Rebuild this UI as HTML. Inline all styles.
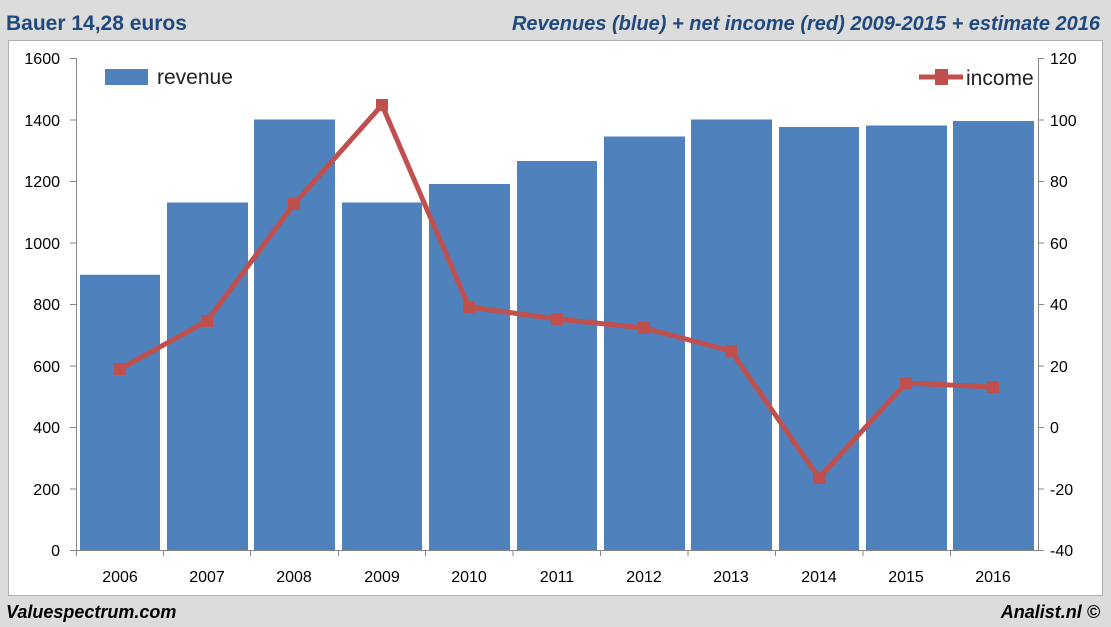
<!DOCTYPE html>
<html><head><meta charset="utf-8"><style>
body{margin:0;background:#dcdcdc;}
svg{display:block;font-family:"Liberation Sans",Calibri,sans-serif;}
</style></head><body>
<svg width="1111" height="627" viewBox="0 0 1111 627">
<rect x="0" y="0" width="1111" height="627" fill="#dcdcdc"/>
<rect x="8.5" y="40.5" width="1094" height="555" fill="#fff" stroke="#b0b0b0"/>
<text x="6" y="30" font-size="21" font-weight="bold" fill="#1f497d">Bauer  14,28 euros</text>
<text x="1100" y="30" font-size="20" font-weight="bold" font-style="italic" fill="#1f497d" text-anchor="end">Revenues (blue) + net income (red) 2009-2015 + estimate 2016</text>
<text x="6" y="618" font-size="18" font-weight="bold" font-style="italic" fill="#000">Valuespectrum.com</text>
<text x="1100" y="618" font-size="18" font-weight="bold" font-style="italic" fill="#000" text-anchor="end">Analist.nl ©</text>
<g fill="#4f81bd">
<rect x="80" y="274.8" width="80" height="275.2"/>
<rect x="167" y="202.5" width="81" height="347.5"/>
<rect x="254" y="119.5" width="81" height="430.5"/>
<rect x="342" y="202.5" width="80" height="347.5"/>
<rect x="429" y="184" width="81" height="366"/>
<rect x="517" y="161" width="80" height="389"/>
<rect x="604" y="136.5" width="81" height="413.5"/>
<rect x="691" y="119.5" width="81" height="430.5"/>
<rect x="779" y="127" width="80" height="423"/>
<rect x="866" y="125.5" width="81" height="424.5"/>
<rect x="953" y="121" width="81" height="429"/>
</g>
<g stroke="#868686" stroke-width="1">
<line x1="76.5" y1="58" x2="76.5" y2="556"/>
<line x1="1038.5" y1="58" x2="1038.5" y2="550"/>
<line x1="70" y1="550.5" x2="1038" y2="550.5"/>
<line x1="70" y1="58.5" x2="76" y2="58.5"/><line x1="70" y1="120" x2="76" y2="120"/><line x1="70" y1="181.5" x2="76" y2="181.5"/><line x1="70" y1="243" x2="76" y2="243"/><line x1="70" y1="304.5" x2="76" y2="304.5"/><line x1="70" y1="366" x2="76" y2="366"/><line x1="70" y1="427.5" x2="76" y2="427.5"/><line x1="70" y1="489" x2="76" y2="489"/>
<line x1="1038" y1="58.5" x2="1044" y2="58.5"/><line x1="1038" y1="120" x2="1044" y2="120"/><line x1="1038" y1="181.5" x2="1044" y2="181.5"/><line x1="1038" y1="243" x2="1044" y2="243"/><line x1="1038" y1="304.5" x2="1044" y2="304.5"/><line x1="1038" y1="366" x2="1044" y2="366"/><line x1="1038" y1="427.5" x2="1044" y2="427.5"/><line x1="1038" y1="489" x2="1044" y2="489"/><line x1="1038" y1="550.5" x2="1044" y2="550.5"/>
<line x1="163.5" y1="550" x2="163.5" y2="556"/><line x1="250.5" y1="550" x2="250.5" y2="556"/><line x1="338.5" y1="550" x2="338.5" y2="556"/><line x1="425.5" y1="550" x2="425.5" y2="556"/><line x1="513" y1="550" x2="513" y2="556"/><line x1="600.5" y1="550" x2="600.5" y2="556"/><line x1="688" y1="550" x2="688" y2="556"/><line x1="775.5" y1="550" x2="775.5" y2="556"/><line x1="863" y1="550" x2="863" y2="556"/><line x1="950.5" y1="550" x2="950.5" y2="556"/>
</g>
<g font-size="16" fill="#000" text-anchor="end">
<text x="60" y="64">1600</text><text x="60" y="126">1400</text><text x="60" y="187">1200</text><text x="60" y="249">1000</text><text x="60" y="310">800</text><text x="60" y="372">600</text><text x="60" y="433">400</text><text x="60" y="495">200</text><text x="60" y="556">0</text>
</g>
<g font-size="16" fill="#000" text-anchor="start">
<text x="1050" y="64">120</text><text x="1050" y="126">100</text><text x="1050" y="187">80</text><text x="1050" y="249">60</text><text x="1050" y="310">40</text><text x="1050" y="372">20</text><text x="1050" y="433">0</text><text x="1050" y="495">-20</text><text x="1050" y="556">-40</text>
</g>
<g font-size="16" fill="#000" text-anchor="middle">
<text x="120" y="582">2006</text><text x="207" y="582">2007</text><text x="294" y="582">2008</text><text x="382" y="582">2009</text><text x="469" y="582">2010</text><text x="557" y="582">2011</text><text x="644" y="582">2012</text><text x="731" y="582">2013</text><text x="819" y="582">2014</text><text x="906" y="582">2015</text><text x="993" y="582">2016</text>
</g>
<polyline points="120,369 207,321 294,204 382,105 469,307 557,319 644,328 731,351 819,478 906,383 993,387" fill="none" stroke="#c0504d" stroke-width="5" stroke-linejoin="round"/>
<g fill="#c0504d">
<rect x="114" y="363" width="12" height="12"/><rect x="201" y="315" width="12" height="12"/><rect x="288" y="198" width="12" height="12"/><rect x="376" y="99" width="12" height="12"/><rect x="463" y="301" width="12" height="12"/><rect x="551" y="313" width="12" height="12"/><rect x="638" y="322" width="12" height="12"/><rect x="725" y="345" width="12" height="12"/><rect x="813" y="472" width="12" height="12"/><rect x="900" y="377" width="12" height="12"/><rect x="987" y="381" width="12" height="12"/>
</g>
<rect x="105" y="69" width="43" height="16" fill="#4f81bd"/>
<text x="157" y="84" font-size="21" fill="#222">revenue</text>
<line x1="919" y1="77" x2="963" y2="77" stroke="#c0504d" stroke-width="5"/>
<rect x="935" y="69" width="13" height="16" fill="#c0504d"/>
<text x="966" y="85" font-size="21" fill="#222">income</text>
</svg>
</body></html>
